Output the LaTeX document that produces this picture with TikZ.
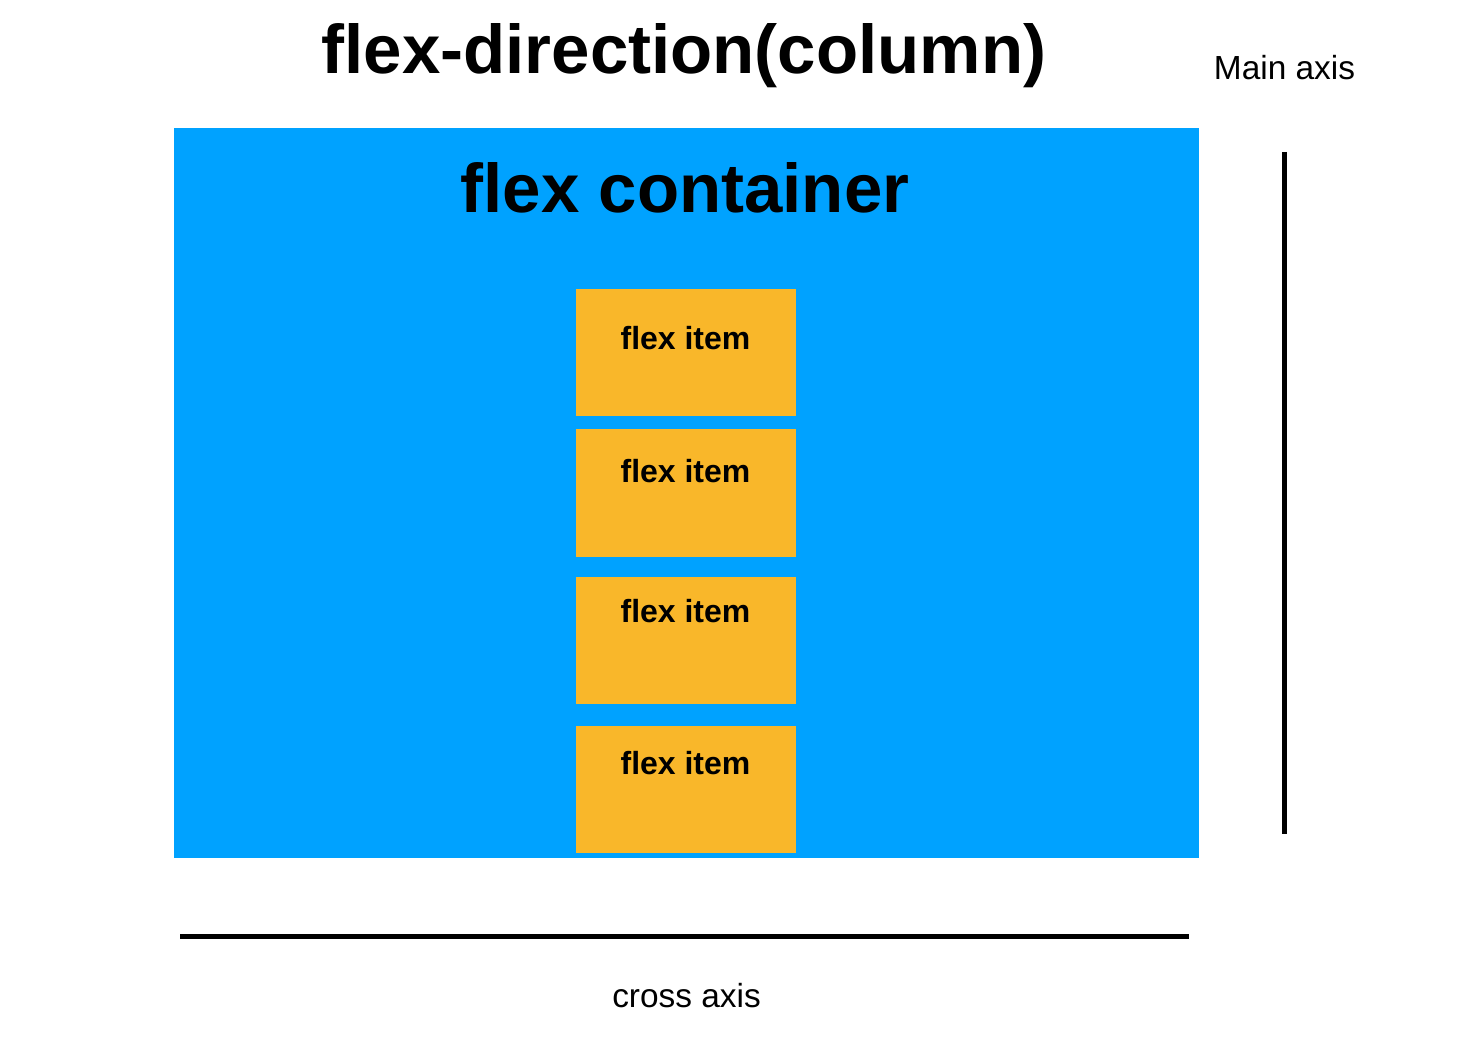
\documentclass[tikz,border=0pt]{standalone}
\usepackage{fontspec}
\setmainfont{Liberation Sans}
\definecolor{flexblue}{HTML}{00A2FF}
\definecolor{flexorange}{HTML}{F9B72A}

\begin{document}
\begin{tikzpicture}[x=0.5pt, y=-0.5pt]
   \tikzstyle{container}=[fill=flexblue, inner sep=0, minimum width=512.5pt, minimum height=365pt]
   \tikzstyle{item}=[fill=flexorange, inner sep=0, minimum width=110pt, minimum height=63.75pt]
   \tikzstyle{big}=[font=\bfseries\fontsize{34.5}{40}\selectfont, anchor=base, inner sep=0]
   \tikzstyle{itemtext}=[font=\bfseries\fontsize{16}{19}\selectfont, anchor=base, inner sep=0]
   \tikzstyle{axistext}=[font=\fontsize{16.7}{20}\selectfont, anchor=base, inner sep=0]
   \tikzstyle{axis}=[line width=2.5pt]

\useasboundingbox (0,0) rectangle (1470,1048);

\node[big] (title) at (684,74) {flex-direction(column)};
\node[container] (cont) at (686.5,493) {};
\node[big] (conttext) at (685,213) {flex container};

% flex items: centre / baseline of text
\foreach \y/\b/\n in {352.5/349/1, 493/482/2, 640.5/622/3, 789.5/774/4} {
    \node[item] (item\n) at (686,\y) {};
    \node[itemtext] (itemtext\n) at (685.5,\b) {flex item};
}

% axes
\coordinate (main top) at (1284.5,152);
\coordinate (main bottom) at (1284.5,834);
\coordinate (cross left) at (180,936);
\coordinate (cross right) at (1189,936);
\draw[axis] (main top) -- (main bottom);
\draw[axis] (cross left) -- (cross right);
\node[axistext] (mainlabel) at (1284.5,79.5) {Main axis};
\node[axistext] (crosslabel) at (686.5,1007.5) {cross axis};

\end{tikzpicture}
\end{document}
